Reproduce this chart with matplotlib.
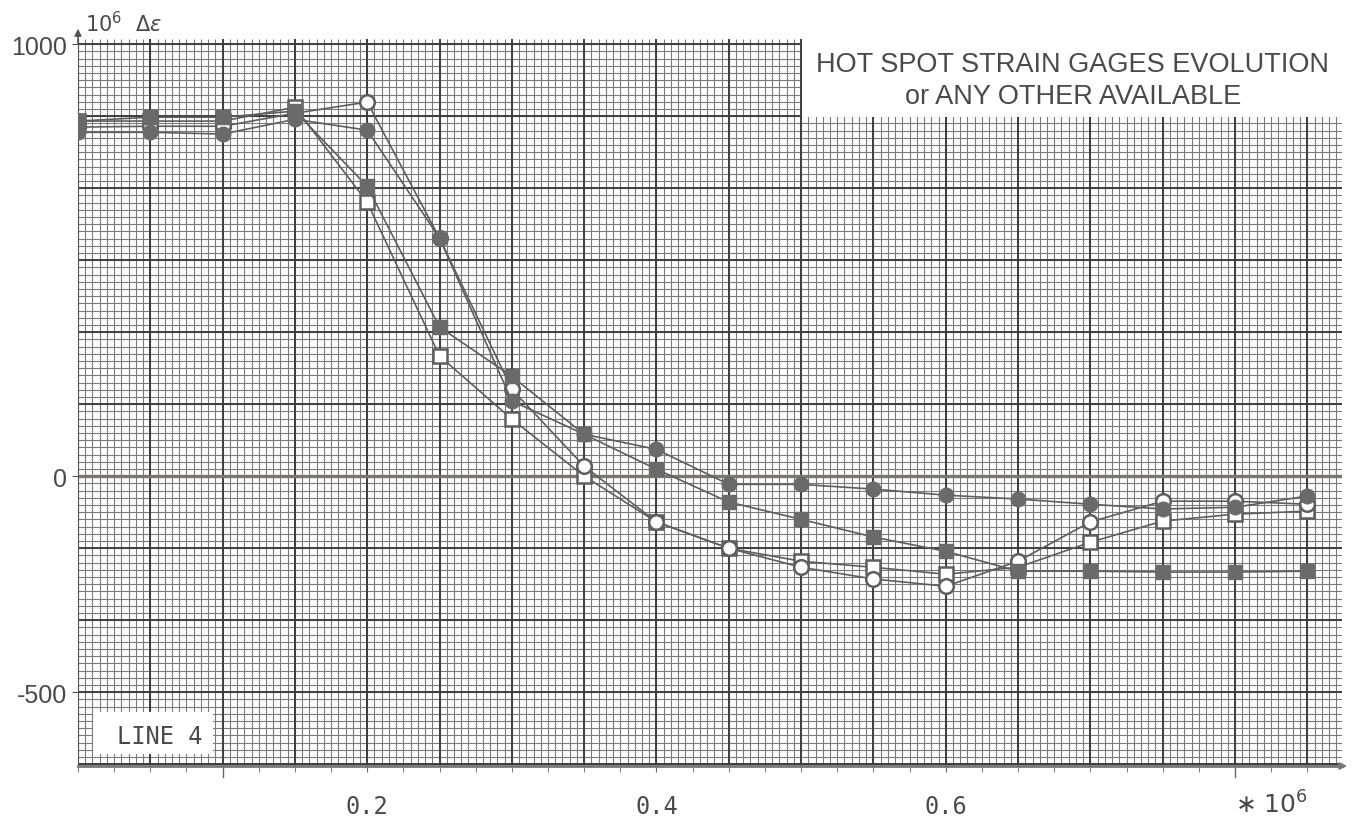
import numpy as np
import matplotlib.pyplot as plt
from matplotlib.patches import Rectangle

# cycles (x 10^6) and strain ranges (10^-6)
cycles = [0.00, 0.05, 0.10, 0.15, 0.20, 0.25, 0.30, 0.35, 0.40,
          0.45, 0.50, 0.55, 0.60, 0.65, 0.70, 0.75, 0.80, 0.85]
gage_open_circle = [808, 810, 810, 840, 866, 551, 201, 23, -106,
                    -167, -211, -238, -255, -197, -106, -58, -58, -65]
gage_filled_circle = [796, 796, 792, 826, 801, 551, 174, 97, 62,
                      -19, -19, -30, -44, -53, -65, -76, -72, -46]
gage_open_square = [822, 822, 822, 854, 634, 278, 132, 0, -106,
                    -167, -197, -211, -227, -211, -153, -104, -88, -81]
gage_filled_square = [822, 831, 831, 845, 671, 345, 231, 97, 16,
                      -60, -100, -141, -174, -220, -220, -222, -222, -220]

ytick_vals = [1000, 0, -500]
xtick_vals = [0.2, 0.4, 0.6]
xtick_text = ["0.2", "0.4", "0.6"]

INK = "#5e5e5e"
TXT = "#4a4a4a"

fig = plt.figure(figsize=(13.52, 8.2), dpi=100)
ax = fig.add_axes([78/1352, 53/820, 1264/1352, 727/820])
x0, x1 = 0.0, 0.874
y0, y1 = -671, 1012
ax.set_xlim(x0, x1)
ax.set_ylim(y0, y1)

# graph paper: mm lines + cm lines
mm_x = np.arange(0, 176) * 0.005
mm_y = np.arange(-40, 61) * 500 / 30
ax.vlines(mm_x, y0, y1, colors="#7a7a7a", lw=0.8, zorder=0)
ax.hlines(mm_y, x0, x1, colors="#7a7a7a", lw=0.8, zorder=0)
ax.vlines(mm_x[::10], y0, y1, colors="#3e3e3e", lw=1.4, zorder=0)
ax.hlines(mm_y[::10], x0, x1, colors="#3e3e3e", lw=1.4, zorder=0)
ax.axhline(0, color="#7a7670", lw=2.4, zorder=1)

# data (filled markers drawn over the open ones)
ax.plot(cycles, gage_open_square, color=INK, lw=1.2, marker="s", ms=10,
        mfc="white", mec=INK, mew=1.8, zorder=3)
ax.plot(cycles, gage_open_circle, color=INK, lw=1.2, marker="o", ms=10.5,
        mfc="white", mec=INK, mew=1.8, zorder=3)
ax.plot(cycles, gage_filled_square, color=INK, lw=1.2, marker="s", ms=10,
        mfc="#6a6a6a", mec="#6a6a6a", zorder=4)
ax.plot(cycles, gage_filled_circle, color=INK, lw=1.2, marker="o", ms=10.5,
        mfc="#6a6a6a", mec="#6a6a6a", zorder=4)

# white boxes with text
ax.add_patch(Rectangle((0.573, 0.893), 0.427, 0.107, transform=ax.transAxes,
                       facecolor="white", edgecolor="none", zorder=5))
ax.text(0.787, 0.9656, "HOT SPOT STRAIN GAGES EVOLUTION", transform=ax.transAxes,
        ha="center", va="center", fontsize=19.5, color=TXT,
        family="Liberation Sans", zorder=6)
ax.text(0.787, 0.9216, "or ANY OTHER AVAILABLE", transform=ax.transAxes,
        ha="center", va="center", fontsize=19.5, color=TXT,
        family="Liberation Sans", zorder=6)

ax.add_patch(Rectangle((0.0119, 0.0165), 0.095, 0.058, transform=ax.transAxes,
                       facecolor="white", edgecolor="none", zorder=5))
ax.text(0.0649, 0.0413, "LINE 4", transform=ax.transAxes, ha="center",
        va="center", fontsize=17, color=TXT, family="DejaVu Sans Mono", zorder=6)

# axes styling
for s in ["top", "right"]:
    ax.spines[s].set_visible(False)
ax.spines["left"].set_color("#555555")
ax.spines["bottom"].set_color("#777777")
ax.spines["bottom"].set_linewidth(2)
ax.annotate("", xy=(1.0063, 0), xytext=(0.99, 0), xycoords="axes fraction",
            arrowprops=dict(arrowstyle="-|>", color="#777777", lw=1.5))
ax.annotate("", xy=(0, 1.018), xytext=(0, 0.99), xycoords="axes fraction",
            arrowprops=dict(arrowstyle="-|>", color="#555555", lw=1.2))

ax.set_yticks(ytick_vals)
ax.set_yticklabels([str(v) for v in ytick_vals], fontsize=18,
                   family="Liberation Sans", color=TXT)
ax.tick_params(axis="y", length=4, color="#555555", pad=4)

ax.set_xticks(xtick_vals)
ax.set_xticklabels(xtick_text, fontsize=17, family="DejaVu Sans Mono", color=TXT)
ax.set_xticks(np.arange(0, 35) * 0.025, minor=True)
ax.tick_params(axis="x", which="both", length=4, color="#666666", pad=16)
for xt in [0.1, 0.8]:
    ax.plot([xt, xt], [0, -0.015], transform=ax.get_xaxis_transform(),
            color="#666666", lw=1, clip_on=False)
ax.text(0.8, -0.052, "∗ 10$^6$", transform=ax.get_xaxis_transform(),
        ha="left", va="center", fontsize=18, color=TXT, family="DejaVu Sans")

ax.text(0.0055, 1.022, r"$10^6\ \ \Delta\epsilon$", transform=ax.transAxes,
        ha="left", va="center", fontsize=15, color=TXT)

fig.savefig("out.png", dpi=100)
